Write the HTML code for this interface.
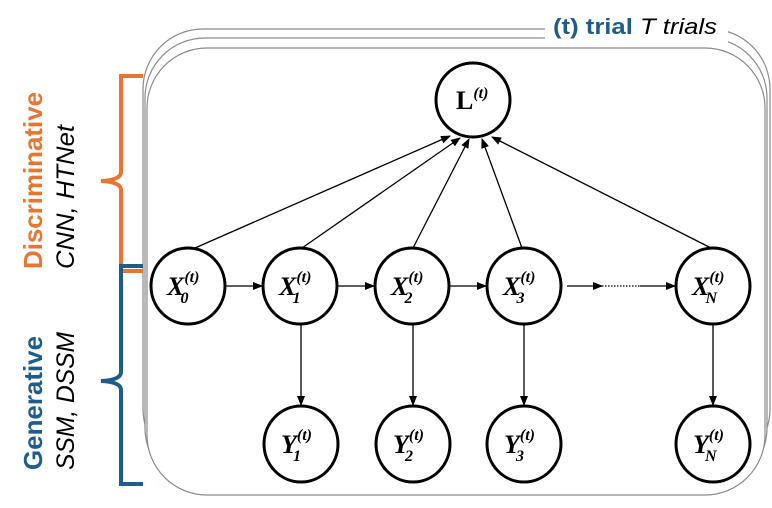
<!DOCTYPE html>
<html><head><meta charset="utf-8"><style>
html,body{margin:0;padding:0;background:#fff;}
svg{display:block;}
.nd{fill:#fff;stroke:#000;stroke-width:3;}
.lbl{font-family:"Liberation Serif",serif;font-weight:bold;font-style:italic;font-size:26px;}
.ed{stroke:#000;stroke-width:1.3;fill:none;}
</style></head><body>
<svg width="772" height="508" viewBox="0 0 772 508" xmlns="http://www.w3.org/2000/svg">
<defs><marker id="ah" markerWidth="10" markerHeight="8" refX="9" refY="4" orient="auto" markerUnits="userSpaceOnUse"><path d="M0,0 L10,4 L0,8 z" fill="#000"/></marker></defs>
<g stroke="#8a8a8a" stroke-width="1.2">
<rect x="143" y="29" width="627" height="440" rx="60" fill="#fff"/>
<rect x="145" y="38" width="622" height="450" rx="60" fill="#fff"/>
<rect x="147" y="48" width="618" height="447" rx="60" fill="#fff"/>
</g>
<rect x="545" y="8" width="183" height="36" fill="#fff"/>
<text x="553" y="34" font-family="Liberation Sans,sans-serif" font-size="22" textLength="164" lengthAdjust="spacingAndGlyphs"><tspan fill="#1F5C8E" font-weight="bold">(t) trial</tspan><tspan font-style="italic" fill="#000"> T trials</tspan></text>
<path d="M143,76 L121,76 L121,172 Q121,180 101,181 Q121,182 121,190 L121,271 L143,271" fill="none" stroke="#E87530" stroke-width="4"/>
<path d="M143,266 L121,266 L121,372 Q121,380 101,381 Q121,382 121,390 L121,484 L143,484" fill="none" stroke="#1F5C8E" stroke-width="4"/>
<text transform="translate(42,269) rotate(-90)" font-family="Liberation Sans,sans-serif" font-size="26" font-weight="bold" fill="#E87530" textLength="177" lengthAdjust="spacingAndGlyphs">Discriminative</text>
<text transform="translate(74,269) rotate(-90)" font-family="Liberation Sans,sans-serif" font-size="25" font-style="italic" fill="#000" textLength="144" lengthAdjust="spacingAndGlyphs">CNN, HTNet</text>
<text transform="translate(42,470) rotate(-90)" font-family="Liberation Sans,sans-serif" font-size="26" font-weight="bold" fill="#1F5C8E" textLength="134" lengthAdjust="spacingAndGlyphs">Generative</text>
<text transform="translate(74,470) rotate(-90)" font-family="Liberation Sans,sans-serif" font-size="25" font-style="italic" fill="#000" textLength="138" lengthAdjust="spacingAndGlyphs">SSM, DSSM</text>
<g class="ed">
<line x1="195" y1="248" x2="450" y2="136" marker-end="url(#ah)"/>
<line x1="302" y1="248" x2="460" y2="138" marker-end="url(#ah)"/>
<line x1="413" y1="248" x2="469" y2="139" marker-end="url(#ah)"/>
<line x1="522" y1="248" x2="482" y2="139" marker-end="url(#ah)"/>
<line x1="711" y1="248" x2="492" y2="137" marker-end="url(#ah)"/>
<line x1="225" y1="286" x2="262" y2="286" marker-end="url(#ah)"/>
<line x1="337" y1="286" x2="374" y2="286" marker-end="url(#ah)"/>
<line x1="449" y1="286" x2="486" y2="286" marker-end="url(#ah)"/>
<line x1="567" y1="286" x2="602" y2="286" marker-end="url(#ah)"/>
<line x1="602" y1="286" x2="640" y2="286" stroke-dasharray="1.5,1.5"/>
<line x1="640" y1="286" x2="675" y2="286" marker-end="url(#ah)"/>
<line x1="301" y1="324" x2="301" y2="405" marker-end="url(#ah)"/>
<line x1="413" y1="324" x2="413" y2="405" marker-end="url(#ah)"/>
<line x1="524" y1="324" x2="524" y2="405" marker-end="url(#ah)"/>
<line x1="713" y1="324" x2="713" y2="405" marker-end="url(#ah)"/>
</g>
<g><ellipse class="nd" cx="473" cy="100" rx="37" ry="37"/><text class="lbl" x="456" y="109" style="font-style:normal">L<tspan font-size="16" style="font-style:italic" dy="-11">(t)</tspan></text></g>
<g><ellipse class="nd" cx="188" cy="286" rx="37" ry="38"/><text class="lbl" x="167" y="295">X<tspan font-size="16" dy="-13">(t)</tspan><tspan font-size="16" dx="-19" dy="21">0</tspan></text></g>
<g><ellipse class="nd" cx="300" cy="286" rx="37" ry="38"/><text class="lbl" x="279" y="295">X<tspan font-size="16" dy="-13">(t)</tspan><tspan font-size="16" dx="-19" dy="21">1</tspan></text></g>
<g><ellipse class="nd" cx="412" cy="286" rx="37" ry="38"/><text class="lbl" x="391" y="295">X<tspan font-size="16" dy="-13">(t)</tspan><tspan font-size="16" dx="-19" dy="21">2</tspan></text></g>
<g><ellipse class="nd" cx="524" cy="286" rx="37" ry="38"/><text class="lbl" x="503" y="295">X<tspan font-size="16" dy="-13">(t)</tspan><tspan font-size="16" dx="-19" dy="21">3</tspan></text></g>
<g><ellipse class="nd" cx="713" cy="286" rx="37" ry="38"/><text class="lbl" x="692" y="295">X<tspan font-size="16" dy="-13">(t)</tspan><tspan font-size="16" dx="-19" dy="21">N</tspan></text></g>
<g><ellipse class="nd" cx="301" cy="444" rx="37" ry="38"/><text class="lbl" x="281" y="453">Y<tspan font-size="16" dy="-13">(t)</tspan><tspan font-size="16" dx="-19" dy="21">1</tspan></text></g>
<g><ellipse class="nd" cx="413" cy="444" rx="37" ry="38"/><text class="lbl" x="393" y="453">Y<tspan font-size="16" dy="-13">(t)</tspan><tspan font-size="16" dx="-19" dy="21">2</tspan></text></g>
<g><ellipse class="nd" cx="524" cy="444" rx="37" ry="38"/><text class="lbl" x="504" y="453">Y<tspan font-size="16" dy="-13">(t)</tspan><tspan font-size="16" dx="-19" dy="21">3</tspan></text></g>
<g><ellipse class="nd" cx="713" cy="444" rx="37" ry="38"/><text class="lbl" x="693" y="453">Y<tspan font-size="16" dy="-13">(t)</tspan><tspan font-size="16" dx="-19" dy="21">N</tspan></text></g>
</svg>
</body></html>
